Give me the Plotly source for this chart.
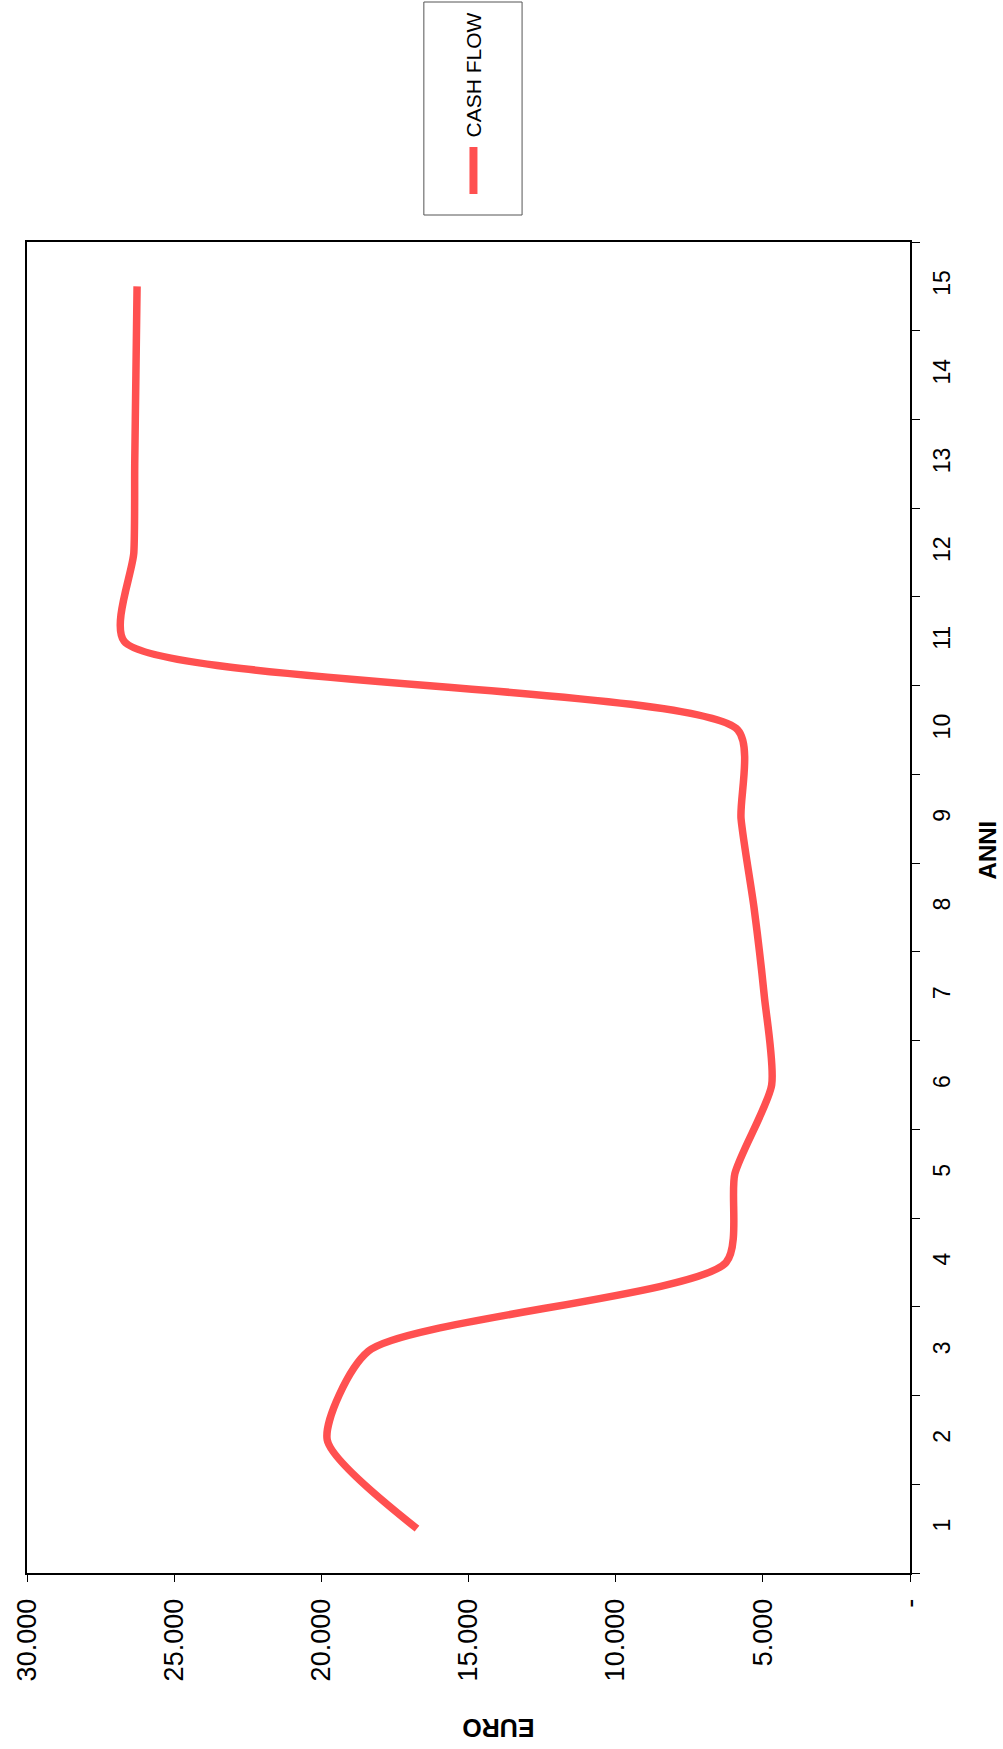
import plotly.graph_objects as go

years = list(range(1, 16))
cash_flow = [16750, 19800, 18400, 6250, 5950, 4700, 4950, 5300, 5740, 5850,
             26700, 26370, 26340, 26300, 26260]
euro_ticks = [0, 5000, 10000, 15000, 20000, 25000, 30000]
euro_labels = ["-", "5.000", "10.000", "15.000", "20.000", "25.000", "30.000"]
series_name = "CASH FLOW"

W, H = 1003, 1749
L, R, T, B = 20, 93, 242, 176
pw, ph = W - L - R, H - T - B

def px(x):
    return (x - L) / pw

def py(y):
    return (H - B - y) / ph

fig = go.Figure()
fig.add_trace(go.Scatter(
    x=cash_flow, y=years, mode="lines", name=series_name,
    line=dict(color="#FF5050", width=7.5, shape="spline", smoothing=0.65),
    showlegend=False,
))

font = "Liberation Sans, Arial, sans-serif"
fig.update_layout(
    width=W, height=H,
    margin=dict(l=L, r=R, t=T, b=B, pad=0),
    paper_bgcolor="white", plot_bgcolor="white",
    font=dict(family=font, color="black"),
    xaxis=dict(
        range=[30000, 0], tickvals=euro_ticks, ticktext=euro_labels,
        tickangle=-90, ticks="outside", ticklen=7, tickcolor="black",
        ticklabelstandoff=6,
        showgrid=False, zeroline=False, showline=True, linecolor="black",
        linewidth=2, mirror=True, tickfont=dict(size=27, family=font),
    ),
    yaxis=dict(
        range=[0.5, 15.5], tickvals=years, side="right", tickangle=-90,
        ticks="", showgrid=False, zeroline=False, showline=True,
        ticklabelstandoff=10,
        linecolor="black", linewidth=2, mirror=True,
        tickfont=dict(size=23, family=font),
        minor=dict(tick0=0.5, dtick=1, ticks="outside", ticklen=8,
                   tickcolor="black", showgrid=False),
    ),
)

# axis titles (rotated like the scanned page)
fig.add_annotation(text="<b>EURO</b>", x=px(495), y=py(1728), xref="paper", yref="paper",
                   xanchor="center", yanchor="middle",
                   showarrow=False, textangle=180, font=dict(size=25, family=font))
fig.add_annotation(text="<b>ANNI</b>", x=px(988), y=py(850), xref="paper", yref="paper",
                   xanchor="center", yanchor="middle",
                   showarrow=False, textangle=-90, font=dict(size=24, family=font))

# legend box
fig.add_shape(type="rect", xref="paper", yref="paper",
              x0=px(420), x1=px(519), y0=py(215), y1=py(2),
              line=dict(color="#555555", width=1), fillcolor="white")
fig.add_shape(type="line", xref="paper", yref="paper",
              x0=px(470), x1=px(470), y0=py(194), y1=py(147),
              line=dict(color="#FF5050", width=8))
fig.add_annotation(text=series_name, x=px(470), y=py(75), xref="paper", yref="paper",
                   xanchor="center", yanchor="middle",
                   showarrow=False, textangle=-90, font=dict(size=21, family=font))

fig.write_html("out.html", config={"displayModeBar": False},
               post_script="document.body.style.margin='0px';document.body.style.padding='0px';")
